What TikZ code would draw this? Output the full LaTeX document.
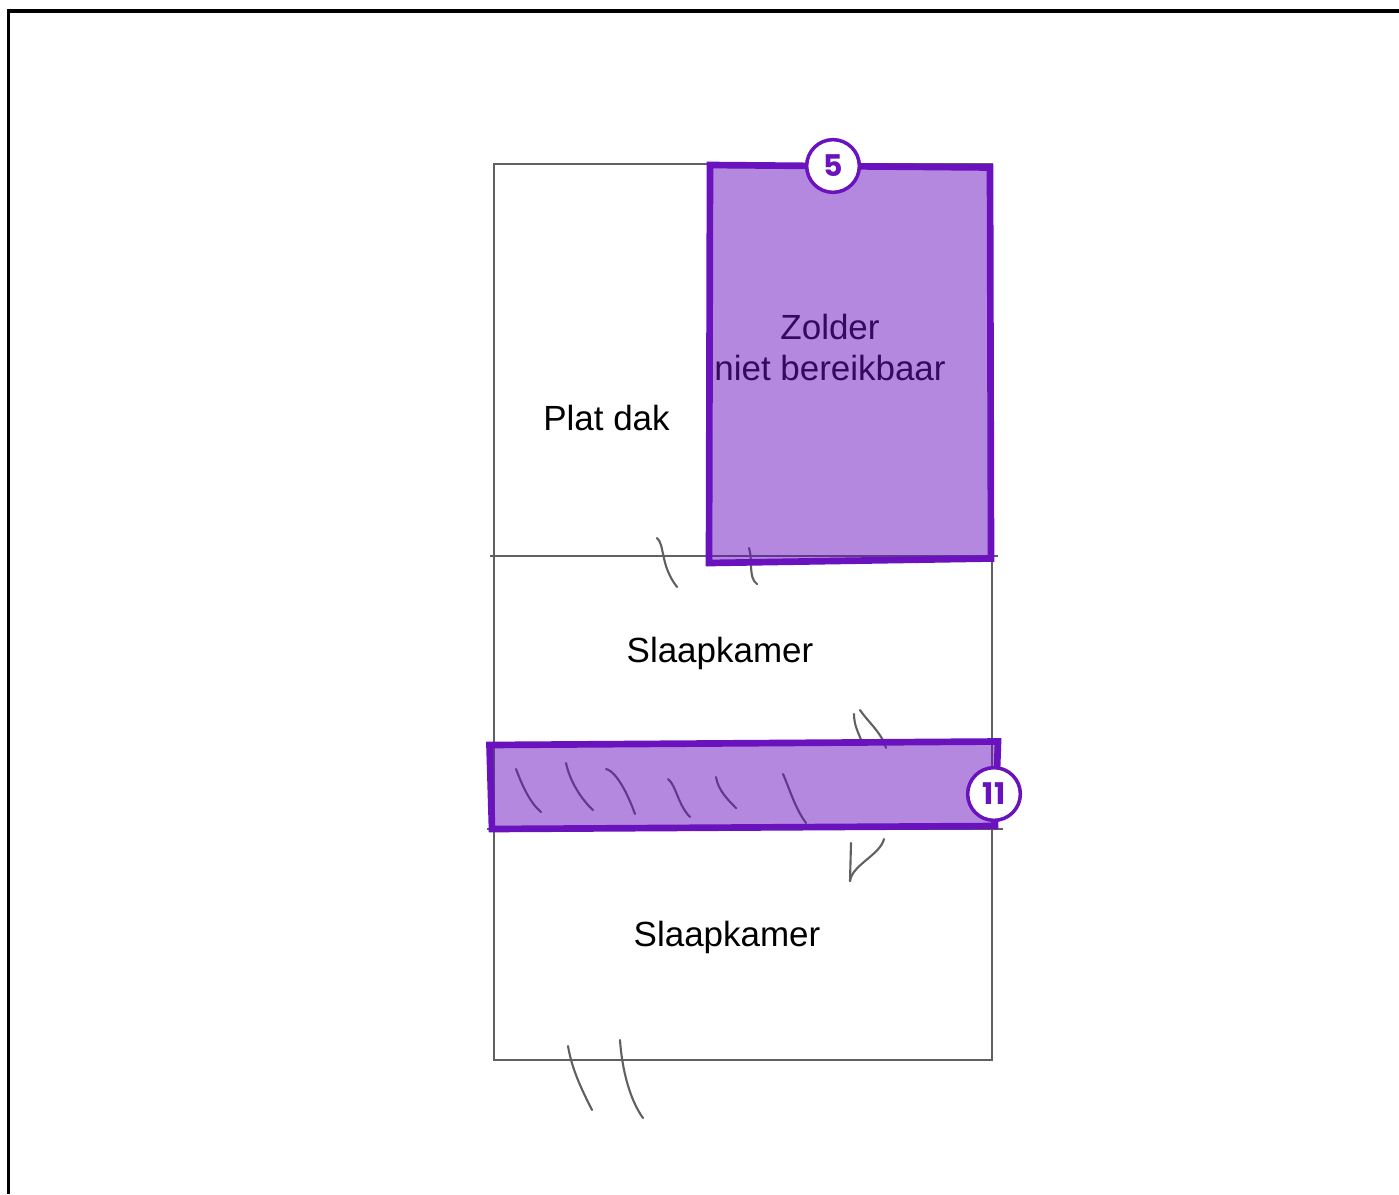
\documentclass[tikz,border=0pt]{standalone}
\usepackage{fontspec}
\setmainfont{Liberation Sans}
\newfontfamily\badgefont{Poppins}
\definecolor{paars}{HTML}{6A12BE}
\definecolor{potlood}{HTML}{606060}
\tikzset{
    roomline/.style={draw=potlood, line width=1.2},
    sketchline/.style={draw=potlood, line width=1.2, line cap=round},
    roomlabel/.style={font=\fontsize{19.9}{23.2}\selectfont, align=center, inner sep=0pt},
    markarea/.style={draw=paars, line width=3.8, fill=paars, fill opacity=0.5, draw opacity=1},
    badge/.style={circle, draw=paars, line width=2, fill=white, minimum size=30, inner sep=0pt, text=paars,
        font=\badgefont\bfseries\fontsize{17}{17}\selectfont},
}
\begin{document}
\begin{tikzpicture}[x=0.02cm, y=-0.02cm, line width=1]
    \useasboundingbox (0,0) rectangle (1399,1194);

    % Outer frame
    \draw[line width=1.8, black] (8.8,1194) -- (8.8,11) -- (1399,11);

    % Floors
    \draw[roomline] (494,164) rectangle (992,1060);
    \draw[roomline] (490,556) -- (998,556);
    \draw[roomline] (487,829) -- (1003,829);

    % Labels
    \node[roomlabel] (platdak) at (606.5,418) {Plat dak};
    \node[roomlabel] (kamerboven) at (720,653) {Slaapkamer};
    \node[roomlabel] (kamerbeneden) at (727,937) {Slaapkamer};
    \node[roomlabel] (zolder) at (830,347.5) {Zolder\\niet bereikbaar};

    % Marks on the top floor line
    \draw[sketchline] (657,538) .. controls (665,545) and (660,565) .. (677,587);
    \draw[sketchline] (749,548) .. controls (753,560) and (748,578) .. (757,584);

    % Marks above the band
    \draw[sketchline] (854,714) .. controls (854,725) and (858,732) .. (862,742);
    \draw[sketchline] (860,710) .. controls (868,722) and (882,733) .. (886,748);

    % Marks below the band
    \draw[sketchline] (851,843) -- (850,881);
    \draw[sketchline] (884,839) .. controls (880,855) and (852,865) .. (850,881);

    % Marks inside the band
    \draw[sketchline] (516,769) .. controls (522,785) and (530,803) .. (541,812);
    \draw[sketchline] (566,763) .. controls (570,782) and (582,800) .. (593,810);
    \draw[sketchline] (606,769) .. controls (618,772) and (630,800) .. (635,814);
    \draw[sketchline] (668,779) .. controls (676,785) and (678,805) .. (690,817);
    \draw[sketchline] (716,777) .. controls (718,790) and (728,800) .. (736,808);
    \draw[sketchline] (783,774) .. controls (790,790) and (795,808) .. (806,823);

    % Marks under the building
    \draw[sketchline] (568,1046) .. controls (572,1070) and (582,1090) .. (592,1110);
    \draw[sketchline] (620,1040) .. controls (622,1070) and (630,1100) .. (643,1118);

    % Marked areas
    \draw[markarea] (710,165) -- (990,167.5) -- (991,558.5) -- (709,563) -- cycle;
    \draw[markarea] (489.5,745) -- (998,741.5) -- (995,826) -- (492,829) -- cycle;

    % Badges
    \node[badge] (badgevijf) at (833,166) {5};
    \node[badge] (badgeelf) at (994,794) {11};

\end{tikzpicture}
\end{document}
